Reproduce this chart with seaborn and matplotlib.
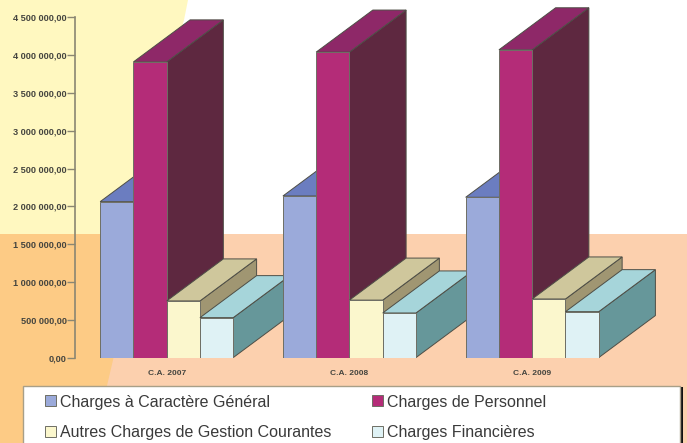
import matplotlib.pyplot as plt
import pandas as pd
import seaborn as sns
from matplotlib.patches import Polygon, Rectangle

# Values
years = ['C.A. 2007', 'C.A. 2008', 'C.A. 2009']
series = ['Charges à Caractère Général', 'Charges de Personnel',
          'Autres Charges de Gestion Courantes', 'Charges Financières']
general = [2062000, 2137000, 2120000]
personnel = [3910000, 4040000, 4070000]
autres = [749000, 760000, 775000]
financieres = [528000, 590000, 607000]
yticks = [0, 500000, 1000000, 1500000, 2000000, 2500000, 3000000, 3500000, 4000000, 4500000]

front = ['#9BAADA', '#B42C78', '#FBF7CD', '#DFF2F5']
top = ['#6B7DC0', '#8E2868', '#CFC79C', '#A6D5DA']
side = ['#55659F', '#5E2840', '#A09672', '#66979A']

df = pd.DataFrame({
    'year': years * 4,
    'serie': [s for s in series for _ in years],
    'value': general + personnel + autres + financieres,
})

sns.set_theme(style='white')
plt.rcParams['font.family'] = ['Liberation Sans', 'DejaVu Sans']

fig = plt.figure(figsize=(6.87, 4.43), dpi=100)
fig.patch.set_facecolor('white')

# Background shapes, in pixels
bg = fig.add_axes([0, 0, 1, 1], zorder=0)
bg.set_xlim(0, 687)
bg.set_ylim(443, 0)
bg.axis('off')
bg.add_patch(Polygon([(0, 0), (188, 0), (184, 20), (172, 60), (155, 130), (140, 190),
                      (133, 234), (0, 234)], color='#FFF8C0', lw=0))
bg.add_patch(Rectangle((0, 234), 687, 209, color='#FCD0AE', lw=0))
bg.add_patch(Polygon([(0, 234), (135, 234), (125, 310), (113, 360), (106, 390),
                      (100, 443), (0, 443)], color='#FDCB85', lw=0))
# Legend box and its dark edge on the right
bg.add_patch(Rectangle((24, 387), 659, 60, color='#111111', lw=0))
bg.add_patch(Rectangle((23, 386), 657, 60, facecolor='white', edgecolor='#A89F88', lw=1))

ax = fig.add_axes([75.3 / 687, 1 - 357.6 / 443, 548.3 / 687, 340.3 / 443], zorder=1)
ax.patch.set_alpha(0)

sns.barplot(data=df, x='year', y='value', hue='serie', hue_order=series, order=years,
            palette=front, width=0.728, gap=0, saturation=1, ax=ax, legend=True,
            edgecolor='#6E6E64', linewidth=0.7)
ax.set_xlim(-0.5, 2.5)
ax.set_ylim(0, 4500000)

# Depth of the 3D blocks
depth_x = 0.31
depth_y = 556000
n = 0
for g in range(len(years)):
    for i, cont in enumerate(ax.containers):
        bar = cont.patches[g]
        x0, x1 = bar.get_x(), bar.get_x() + bar.get_width()
        h = bar.get_height()
        top_face = [(x0, h), (x1, h), (x1 + depth_x, h + depth_y), (x0 + depth_x, h + depth_y)]
        side_face = [(x1, 0), (x1 + depth_x, depth_y), (x1 + depth_x, h + depth_y), (x1, h)]
        ax.add_patch(Polygon(side_face, facecolor=side[i], edgecolor='#4E4E46', lw=0.7,
                             clip_on=False, zorder=3 + n))
        ax.add_patch(Polygon(top_face, facecolor=top[i], edgecolor='#4E4E46', lw=0.7,
                             clip_on=False, zorder=3 + n))
        bar.set_zorder(3 + n + 0.5)
        n += 1

# Axis
ax.set_xlabel('')
ax.set_ylabel('')
ax.set_yticks(yticks)
ax.set_yticklabels([f'{v:,.2f}'.replace(',', ' ').replace('.', ',') if v else '0,00' for v in yticks])
ax.tick_params(axis='y', left=True, length=6, width=1, color='#8A8672', pad=0,
               labelsize=6.6, labelcolor='#45453F')
ax.tick_params(axis='x', bottom=False, pad=3, labelsize=6, labelcolor='#45453F')
for lab in ax.get_yticklabels() + ax.get_xticklabels():
    lab.set_fontweight('bold')
sns.despine(ax=ax, bottom=True)
ax.spines['left'].set_color('#8A8672')
ax.spines['left'].set_linewidth(1.2)

# Legend, columns filled first so the order has to change
handles, labels = ax.get_legend_handles_labels()
order = [0, 2, 1, 3]
ax.legend([handles[i] for i in order], [labels[i] for i in order], ncol=2,
          loc='upper left', bbox_to_anchor=(45 / 687, 1 - 394.5 / 443),
          bbox_transform=fig.transFigure, borderaxespad=0, fontsize=11.5,
          handlelength=0.68, handleheight=0.68, handletextpad=0.25,
          borderpad=0, labelspacing=0.95, columnspacing=2.55,
          frameon=False, labelcolor='#3A3A3A')

fig.savefig('out.png', dpi=100)
